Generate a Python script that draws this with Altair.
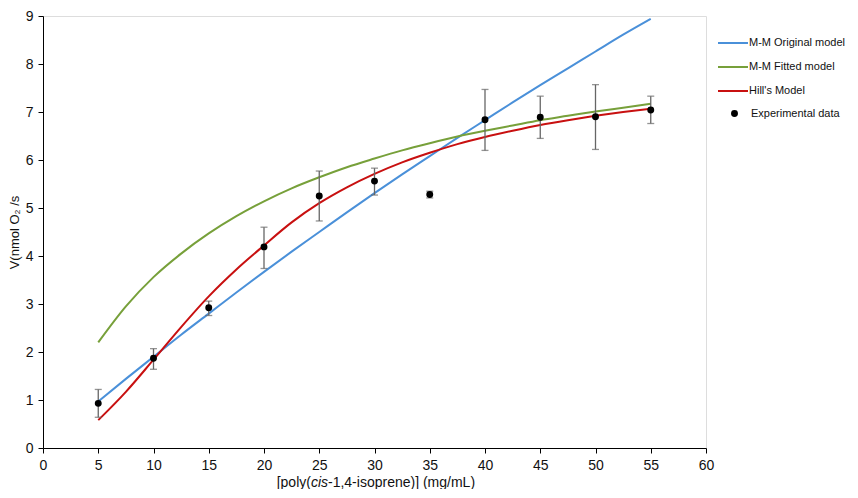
import altair as alt
import pandas as pd

# Experimental data
conc = [5, 10, 15, 20, 25, 30, 35, 40, 45, 50, 55]
v_mean = [0.93, 1.87, 2.92, 4.19, 5.25, 5.56, 5.28, 6.84, 6.89, 6.90, 7.04]
v_low = [0.64, 1.64, 2.76, 3.74, 4.73, 5.27, 5.21, 6.20, 6.45, 6.22, 6.76]
v_high = [1.22, 2.07, 3.06, 4.60, 5.77, 5.83, 5.35, 7.47, 7.33, 7.57, 7.33]

# Model curves
curve_x = [5, 7.5, 10, 12.5, 15, 17.5, 20, 22.5, 25, 27.5, 30, 32.5, 35, 37.5, 40,
           42.5, 45, 47.5, 50, 52.5, 55]
mm_original = [0.97, 1.44, 1.90, 2.36, 2.80, 3.24, 3.67, 4.09, 4.50, 4.91, 5.31,
               5.70, 6.08, 6.46, 6.83, 7.20, 7.56, 7.91, 8.26, 8.61, 8.94]
mm_fitted = [2.20, 2.95, 3.56, 4.05, 4.47, 4.83, 5.14, 5.41, 5.64, 5.85, 6.03,
             6.20, 6.35, 6.49, 6.61, 6.72, 6.83, 6.92, 7.01, 7.09, 7.17]
hill = [0.58, 1.17, 1.84, 2.52, 3.16, 3.72, 4.22, 4.70, 5.10, 5.43, 5.71,
        5.95, 6.15, 6.33, 6.48, 6.61, 6.73, 6.83, 6.92, 7.00, 7.07]

series_names = ["M-M Original model", "M-M Fitted model", "Hill's Model"]
series_colors = ["#4A90D9", "#77A03A", "#C81010"]
point_label = "Experimental data"

x_ticks = list(range(0, 61, 5))
y_ticks = list(range(0, 10, 1))

FONT = "Liberation Sans"

rows = []
for name, vals in zip(series_names, [mm_original, mm_fitted, hill]):
    for xv, yv in zip(curve_x, vals):
        rows.append({"x": xv, "v": yv, "series": name})
curves = pd.DataFrame(rows)

pts = pd.DataFrame({"x": conc, "v": v_mean, "lo": v_low, "hi": v_high,
                    "label": [point_label] * len(conc)})

xscale = alt.Scale(domain=[0, 60], nice=False, zero=False)
yscale = alt.Scale(domain=[0, 9], nice=False, zero=False)

xaxis = alt.Axis(values=x_ticks, title=None, grid=False, tickSize=5, labelPadding=5,
                 labelFontSize=14, labelFont=FONT, labelColor="#111",
                 domainColor="black", tickColor="black", labelFlush=False)
yaxis = alt.Axis(values=y_ticks, title="V(nmol O\u2082 /s", grid=False, tickSize=5,
                 labelPadding=5, labelFontSize=14, labelFont=FONT, labelColor="#111",
                 domainColor="black", tickColor="black", titleFont=FONT,
                 titleFontSize=13, titleFontWeight="normal", titleColor="#111",
                 titleX=-22)

lines = alt.Chart(curves).mark_line(strokeWidth=2, interpolate="monotone").encode(
    x=alt.X("x:Q", scale=xscale, axis=xaxis),
    y=alt.Y("v:Q", scale=yscale, axis=yaxis),
    color=alt.Color("series:N",
                    scale=alt.Scale(domain=series_names, range=series_colors),
                    sort=series_names,
                    legend=alt.Legend(title=None, orient="none", legendX=677, legendY=14,
                                      symbolType="M-1.25,0L1.25,0", symbolSize=576,
                                      symbolStrokeWidth=2, labelFont=FONT,
                                      labelFontSize=11, labelColor="#111",
                                      labelOffset=3, rowPadding=6, padding=0)),
    detail="series:N",
)

bars = alt.Chart(pts).mark_rule(color="#666666", strokeWidth=1.3).encode(
    x=alt.X("x:Q", scale=xscale),
    y=alt.Y("lo:Q", scale=yscale),
    y2="hi:Q",
)
cap_lo = alt.Chart(pts).mark_tick(color="#666666", thickness=1.3, size=7,
                                  orient="horizontal").encode(
    x=alt.X("x:Q", scale=xscale),
    y=alt.Y("lo:Q", scale=yscale),
)
cap_hi = alt.Chart(pts).mark_tick(color="#666666", thickness=1.3, size=7,
                                  orient="horizontal").encode(
    x=alt.X("x:Q", scale=xscale),
    y=alt.Y("hi:Q", scale=yscale),
)

points = alt.Chart(pts).mark_circle(size=48, opacity=1).encode(
    x=alt.X("x:Q", scale=xscale),
    y=alt.Y("v:Q", scale=yscale),
    fill=alt.Fill("label:N", scale=alt.Scale(domain=[point_label], range=["black"]),
                  legend=alt.Legend(title=None, orient="none", legendX=686, legendY=92,
                                    symbolType="circle", symbolSize=48,
                                    labelFont=FONT, labelFontSize=11,
                                    labelColor="#111", labelOffset=11, padding=0)),
)

title_df = pd.DataFrame({"a": ["[poly("], "b": ["cis"], "c": ["-1,4-isoprene)] (mg/mL)"]})
TY = 467
t1 = alt.Chart(title_df).mark_text(align="right", baseline="middle", font=FONT,
                                   fontSize=14, color="#111").encode(
    x=alt.value(267.9), y=alt.value(TY), text="a:N")
t2 = alt.Chart(title_df).mark_text(align="left", baseline="middle", font=FONT,
                                   fontSize=14, fontStyle="italic", color="#111").encode(
    x=alt.value(267.9), y=alt.value(TY), text="b:N")
t3 = alt.Chart(title_df).mark_text(align="left", baseline="middle", font=FONT,
                                   fontSize=14, color="#111").encode(
    x=alt.value(285.0), y=alt.value(TY), text="c:N")

chart = alt.layer(lines, bars, cap_lo, cap_hi, points, t1, t2, t3).resolve_scale(
    color="independent"
).properties(
    width=663, height=432,
    autosize=alt.AutoSizeParams(type="none"),
    padding={"left": 35, "top": 8, "right": 144, "bottom": 41},
).configure_view(stroke=None).configure(background="white")

chart.save("out.html", embed_options={"renderer": "svg", "actions": False})
